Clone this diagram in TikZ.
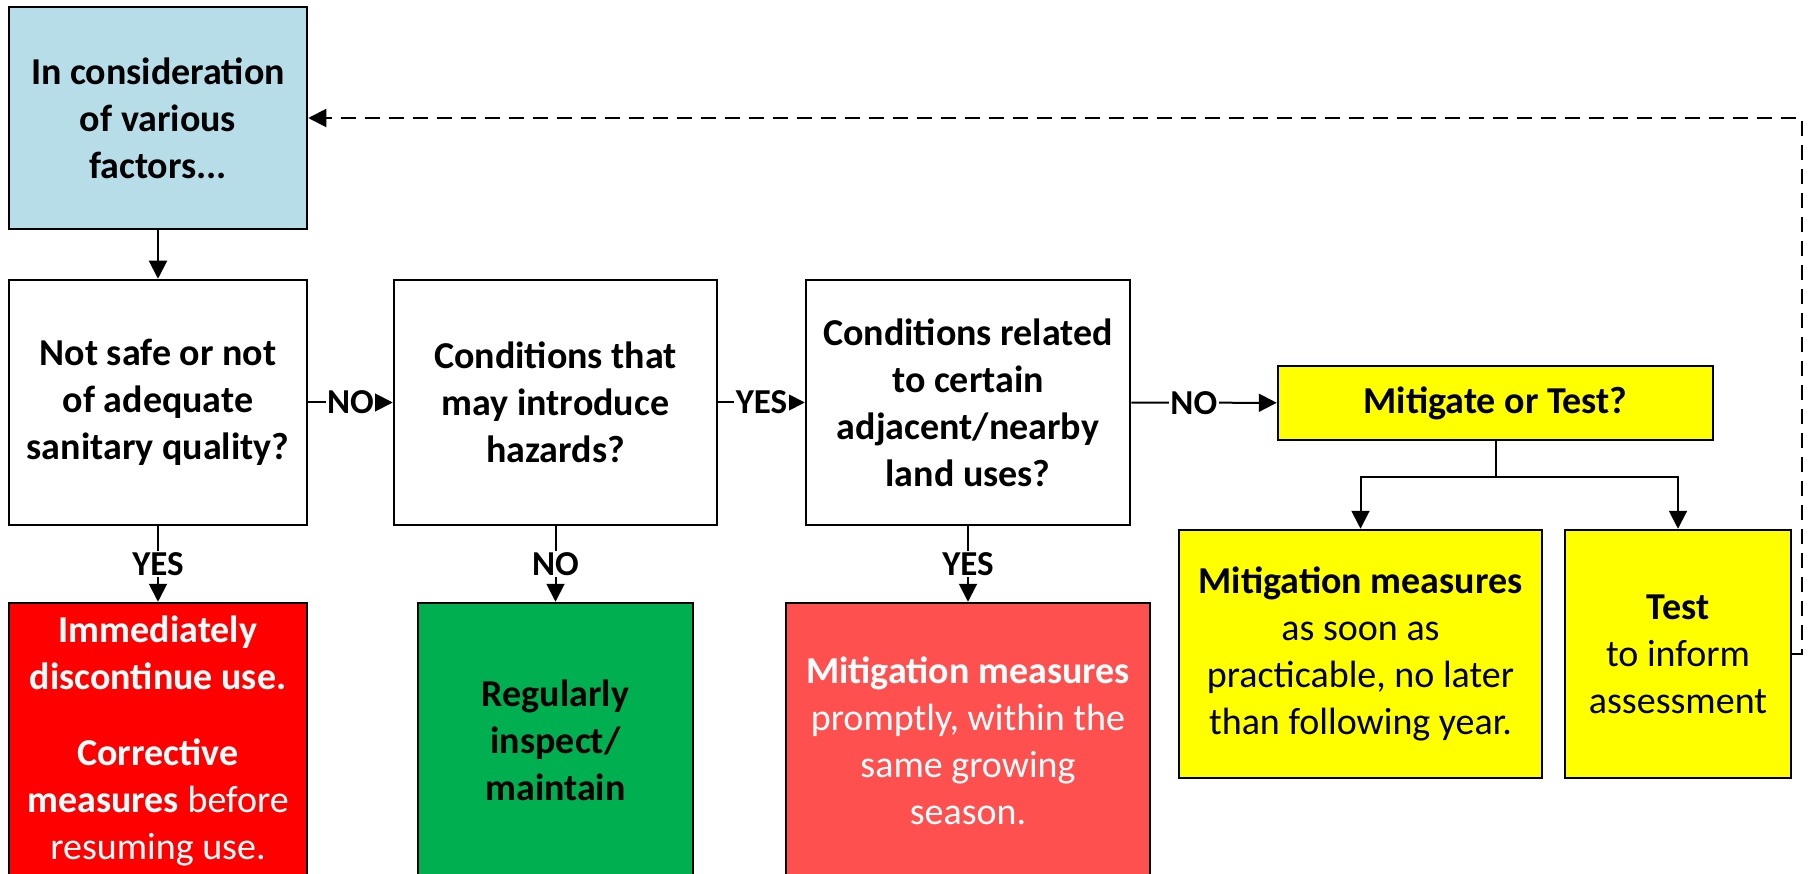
\documentclass[tikz,border=0pt]{standalone}
\usepackage{fontspec}
\setmainfont{Carlito}
\usetikzlibrary{arrows.meta}
\definecolor{boxblue}{HTML}{B7DDE8}
\definecolor{boxred}{HTML}{FF0000}
\definecolor{boxgreen}{HTML}{00B050}
\definecolor{boxsalmon}{HTML}{FF5050}
\definecolor{boxyellow}{HTML}{FFFF00}
\tikzset{
  box/.style={draw=black, line width=2.5pt, align=center, inner sep=0pt,
    font=\fontsize{38}{47}\selectfont},
  qbox/.style={box, fill=white, font=\fontsize{38}{47}\selectfont\bfseries},
  lbl/.style={fill=white, inner sep=1.5pt, font=\fontsize{35}{40}\selectfont\bfseries},
  conn/.style={line width=2pt, -{Triangle[length=18pt,width=18pt]}},
  back/.style={line width=2pt, dash pattern=on 15pt off 9pt, -{Triangle[length=18pt,width=18pt]}},
}
\begin{document}
\begin{tikzpicture}[x=1pt,y=-1pt]
\useasboundingbox (0,0) rectangle (1816,874);
% top
\node[qbox, fill=boxblue, minimum width=298pt, minimum height=222pt] (blue) at (158,118)
  {In consideration\\of various\\factors...};
% question boxes
\node[qbox, minimum width=298pt, minimum height=245pt] (q1) at (158,402.5)
  {Not safe or not\\of adequate\\sanitary quality?};
\node[qbox, minimum width=323pt, minimum height=245pt] (q2) at (555.5,402.5)
  {Conditions that\\may introduce\\hazards?};
\node[qbox, minimum width=324pt, minimum height=245pt] (q3) at (968,402.5)
  {Conditions related\\to certain\\adjacent/nearby\\land uses?};
\node[qbox, fill=boxyellow, minimum width=435pt, minimum height=74pt] (mt) at (1495.5,403)
  {Mitigate or Test?};
% outcome boxes
\node[box, fill=boxred, text=white, minimum width=298pt, minimum height=275pt] (red) at (158,740.5)
  {\textbf{Immediately}\\\textbf{discontinue use.}\\[29pt]\textbf{Corrective}\\\textbf{measures} before\\resuming use.};
\node[box, fill=boxgreen, font=\fontsize{38}{47}\selectfont\bfseries, minimum width=275pt, minimum height=275pt] (green) at (555.5,740.5)
  {Regularly\\inspect/\\maintain};
\node[box, fill=boxsalmon, text=white, minimum width=364pt, minimum height=275pt] (salmon) at (968,740.5)
  {\textbf{Mitigation measures}\\promptly, within the\\same growing\\season.};
\node[box, fill=boxyellow, minimum width=363pt, minimum height=248pt] (ml) at (1360.5,654)
  {\textbf{Mitigation measures}\\as soon as\\practicable, no later\\than following year.};
\node[box, fill=boxyellow, minimum width=226pt, minimum height=248pt] (test) at (1678,654)
  {\textbf{Test}\\to inform\\assessment};
% connectors
\draw[conn] (blue) -- (q1);
\draw[conn] (q1) -- node[lbl] (l1) {NO} (q2);
\draw[conn] (q2) -- node[lbl] (l2) {YES} (q3);
\draw[conn] (q3) -- node[lbl, pos=0.43] (l3) {NO} (mt);
\draw[conn] (q1) -- node[lbl] (l4) {YES} (red);
\draw[conn] (q2) -- node[lbl] (l5) {NO} (green);
\draw[conn] (q3) -- node[lbl] (l6) {YES} (salmon);
\coordinate (split) at (1495.5,477);
\draw[conn] (mt.south) -- (split) -| (ml.north);
\draw[conn] (split) -| (test.north);
\coordinate (rt) at (1802,654);
\draw[back] (test.east) -- (rt) |- (blue.east);
\end{tikzpicture}
\end{document}
